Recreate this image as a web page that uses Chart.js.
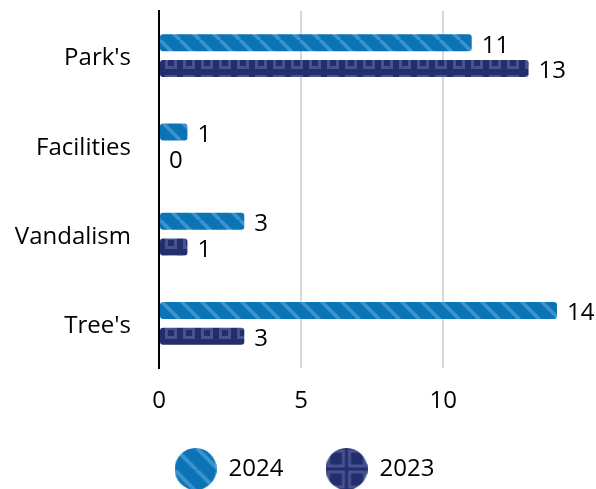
<!DOCTYPE html>
<html>
<head>
<meta charset="utf-8">
<script src="https://cdn.jsdelivr.net/npm/chart.js@4.4.1/dist/chart.umd.min.js"></script>
<style>
html,body{margin:0;padding:0;background:#fff;}
#wrap{width:596px;height:489px;}
</style>
</head>
<body>
<div id="wrap"><canvas id="c" width="596" height="489"></canvas></div>
<script>
const categories = ["Park's", "Facilities", "Vandalism", "Tree's"];
const values2024 = [11, 1, 3, 14];
const values2023 = [13, 0, 1, 3];
const seriesNames = ["2024", "2023"];
const xTicks = [0, 5, 10];

const FONT = "'Open Sans', 'Noto Sans', sans-serif";
const FS = 24;
const BLUE = '#0b74b6';
const NAVY = '#232e6c';

function stripePattern(size, base, light, lw) {
  const c = document.createElement('canvas');
  c.width = size; c.height = size;
  const g = c.getContext('2d');
  g.fillStyle = base; g.fillRect(0, 0, size, size);
  g.strokeStyle = light; g.lineWidth = lw;
  for (let k = -1; k <= 1; k++) {
    g.beginPath();
    g.moveTo(k * size, 0);
    g.lineTo(k * size + size, size);
    g.stroke();
  }
  return c;
}
function boxPattern(size, base, light, lw, inset) {
  const c = document.createElement('canvas');
  c.width = size; c.height = size;
  const g = c.getContext('2d');
  g.fillStyle = base; g.fillRect(0, 0, size, size);
  g.strokeStyle = light; g.lineWidth = lw;
  g.strokeRect(inset, inset, size - 2 * inset, size - 2 * inset);
  return c;
}
const ctx = document.getElementById('c').getContext('2d');
const pat2024 = ctx.createPattern(stripePattern(20, BLUE, 'rgba(110,180,230,0.5)', 3.5), 'repeat');
const pat2023 = ctx.createPattern(boxPattern(18, NAVY, 'rgba(105,120,180,0.5)', 3, 4.5), 'repeat');

function legendIcon(tile, d) {
  const c = document.createElement('canvas');
  c.width = d; c.height = d;
  const g = c.getContext('2d');
  g.beginPath();
  g.arc(d / 2, d / 2, d / 2, 0, Math.PI * 2);
  g.fillStyle = g.createPattern(tile, 'repeat');
  g.fill();
  return c;
}
const icon2024 = legendIcon(stripePattern(22, BLUE, 'rgba(110,180,230,0.5)', 4), 42);
const icon2023 = legendIcon(boxPattern(21, NAVY, 'rgba(105,120,180,0.5)', 3, 3), 42);

const valueLabels = {
  id: 'valueLabels',
  afterLayout(chart) {
    // let the category labels use the full left margin
    const s = chart.scales.y;
    s.left = 0;
    s.width = s.right;
  },
  afterDatasetsDraw(chart) {
    const c = chart.ctx;
    c.save();
    c.font = FS + "px " + FONT;
    c.fillStyle = '#000';
    c.textAlign = 'left';
    c.textBaseline = 'middle';
    chart.data.datasets.forEach((ds, di) => {
      const meta = chart.getDatasetMeta(di);
      meta.data.forEach((el, i) => {
        c.fillText(String(ds.data[i]), el.x + 10, el.y + 3);
      });
    });
    c.restore();
  }
};

new Chart(ctx, {
  type: 'bar',
  data: {
    labels: categories,
    datasets: [
      { label: seriesNames[0], data: values2024, backgroundColor: pat2024, borderRadius: 3, borderSkipped: false },
      { label: seriesNames[1], data: values2023, backgroundColor: pat2023, borderRadius: 3, borderSkipped: false }
    ]
  },
  options: {
    indexAxis: 'y',
    responsive: false,
    animation: false,
    devicePixelRatio: 1,
    categoryPercentage: 0.58,
    barPercentage: 0.66,
    layout: { padding: { top: 11, right: 39, left: 52, bottom: 0 } },
    scales: {
      x: {
        min: 0, max: 14,
        afterBuildTicks(scale) { scale.ticks = xTicks.map(v => ({ value: v })); },
        afterFit(scale) { scale.height = 47; scale.paddingLeft = 0; scale.paddingRight = 0; },
        grid: { color: '#d9d9d9', lineWidth: 2, drawTicks: false },
        border: { display: false },
        ticks: { font: { family: FONT, size: FS }, color: '#000', padding: 19 }
      },
      y: {
        afterFit(scale) { scale.width = 107; scale.paddingTop = 0; scale.paddingBottom = 0; },
        grid: { display: false, drawTicks: false },
        border: { display: true, color: '#000', width: 2 },
        ticks: { font: { family: FONT, size: FS }, color: '#000', padding: 28, labelOffset: 3 }
      }
    },
    plugins: {
      tooltip: { enabled: false },
      legend: {
        position: 'bottom',
        maxHeight: 74,
        labels: {
          usePointStyle: true,
          pointStyleWidth: 42,
          padding: 42,
          color: '#000',
          font: { family: FONT, size: FS },
          generateLabels() {
            return [
              { text: seriesNames[0], pointStyle: icon2024, fillStyle: BLUE, strokeStyle: 'transparent', lineWidth: 0, hidden: false, datasetIndex: 0, fontColor: '#000' },
              { text: seriesNames[1], pointStyle: icon2023, fillStyle: NAVY, strokeStyle: 'transparent', lineWidth: 0, hidden: false, datasetIndex: 1, fontColor: '#000' }
            ];
          }
        }
      }
    }
  },
  plugins: [valueLabels]
});
</script>
</body>
</html>
